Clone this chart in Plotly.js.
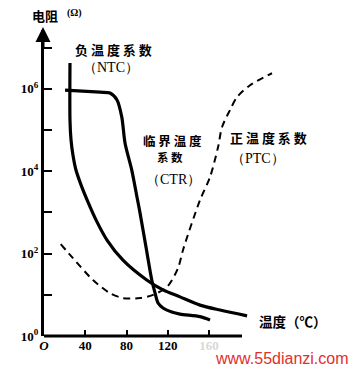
<!DOCTYPE html>
<html>
<head>
<meta charset="utf-8">
<script src="https://cdn.plot.ly/plotly-3.0.1.min.js"></script>
<style>html,body{margin:0;padding:0;background:#fff;}#chart{width:352px;height:370px;}</style>
</head>
<body>
<div id="chart"></div>
<script>
// Temperature (°C) and log10(resistance / Ω)
const ntcTemp = [25.2, 25.2, 26.2, 28.1, 31.0, 35.9, 42.7, 50.4, 61.1, 76.6, 99.6, 115.4, 131.9, 151.3, 170.7, 196.9];
const ntcLogR = [6.63, 5.24, 4.76, 4.39, 4.03, 3.67, 3.25, 2.82, 2.33, 1.84, 1.36, 1.12, 0.95, 0.75, 0.63, 0.49];

const ctrTemp = [20.4, 54.3, 64.0, 70.8, 75.4, 78.6, 85.1, 90.2, 93.1, 98.9, 104.5, 107.7, 110.6, 115.4, 123.9, 131.9, 151.3, 161.0];
const ctrLogR = [5.97, 5.92, 5.90, 5.73, 5.32, 4.68, 4.03, 3.37, 2.99, 2.16, 1.36, 1.04, 0.80, 0.68, 0.58, 0.53, 0.47, 0.39];

const ptcTemp = [16.2, 28.1, 47.5, 64.0, 76.6, 93.1, 105.7, 119.3, 130.0, 134.8, 151.3, 161.0, 168.8, 172.6, 180.4, 187.2, 199.8, 221.1];
const ptcLogR = [2.23, 1.89, 1.36, 1.04, 0.92, 0.92, 1.00, 1.19, 1.65, 2.09, 3.30, 3.86, 4.59, 5.07, 5.49, 5.80, 6.09, 6.38];

const xTickVals = [0, 40, 80, 120, 160];
const xTickText = ['<i>O</i>', '40', '80', '120', '<span style="color:#d8d8d8">160</span>'];
const yTickVals = [1, 100, 10000, 1000000];
const yTickText = ['10<sup>0</sup>', '10<sup>2</sup>', '10<sup>4</sup>', '10<sup>6</sup>'];
const yMinorVals = [10, 1000, 100000, 10000000];

const toR = a => a.map(v => Math.pow(10, v));

const M = {l: 44, r: 77, t: 30, b: 34};
const W = 352, H = 370;
const pw = W - M.l - M.r, ph = H - M.t - M.b;
const px = x => (x - M.l) / pw;
const py = y => (H - M.b - y) / ph;

const cjk = '"Noto Sans CJK SC", sans-serif';
const serif = '"Liberation Serif", "DejaVu Serif", serif';

function label(text, x, y, size, family, weight, color) {
  return {
    xref: 'paper', yref: 'paper', x: px(x), y: py(y),
    xanchor: 'center', yanchor: 'middle', showarrow: false,
    text: text,
    font: {family: family, size: size, color: color || '#000', weight: weight || 'bold'}
  };
}

const traces = [
  {x: ntcTemp, y: toR(ntcLogR), mode: 'lines', line: {color: '#000', width: 3.2, shape: 'spline', smoothing: 0.8}, hoverinfo: 'skip'},
  {x: ctrTemp, y: toR(ctrLogR), mode: 'lines', line: {color: '#000', width: 3.2, shape: 'spline', smoothing: 0.8}, hoverinfo: 'skip'},
  {x: ptcTemp, y: toR(ptcLogR), mode: 'lines', line: {color: '#000', width: 2, dash: '7px,5px', shape: 'spline', smoothing: 0.8}, hoverinfo: 'skip'}
];

const layout = {
  width: W, height: H,
  margin: M,
  paper_bgcolor: '#fff', plot_bgcolor: '#fff',
  showlegend: false,
  xaxis: {
    range: [0, 224], tickvals: xTickVals, ticktext: xTickText,
    ticks: 'inside', ticklen: 6, tickwidth: 2, tickcolor: '#000',
    showline: false, showgrid: false, zeroline: false,
    tickfont: {family: serif, size: 13, color: '#000', weight: 'bold'}
  },
  yaxis: {
    type: 'log', range: [0, 7.43], tickvals: yTickVals, ticktext: yTickText,
    ticks: 'inside', ticklen: 8, tickwidth: 2, tickcolor: '#000',
    minor: {tickvals: yMinorVals, ticks: 'inside', ticklen: 8, tickwidth: 2, tickcolor: '#000', showgrid: false},
    showline: true, linewidth: 3, linecolor: '#000',
    showgrid: false, zeroline: false,
    tickfont: {family: serif, size: 13, color: '#000', weight: 'bold'}
  },
  shapes: [
    {type: 'line', xref: 'x', yref: 'paper', x0: 0, x1: 192, y0: 0, y1: 0, line: {color: '#000', width: 3}}
  ],
  annotations: [
    {xref: 'paper', yref: 'paper', x: px(43), y: py(27), ax: 0, ay: 22, text: '', showarrow: true,
     arrowhead: 2, arrowsize: 1, arrowwidth: 3, arrowcolor: '#000'},
    label('电阻', 45, 16, 13, cjk),
    label('(Ω)', 74, 13, 10, serif),
    label('负 温 度 系 数', 113, 49, 13, cjk),
    label('（NTC）', 111, 67, 14, serif, 'normal'),
    label('临 界 温 度', 172, 140, 12.5, cjk),
    label('系 数', 170, 157, 11.5, cjk),
    label('（CTR）', 173, 179, 14, serif, 'normal'),
    label('正 温 度 系 数', 268, 137, 13, cjk),
    label('（PTC）', 258, 159, 14, serif, 'normal'),
    label('温度（℃）', 293, 321, 13.5, cjk),
    label('www.55dianzi.com', 282, 358, 16, '"Liberation Sans", Arial, sans-serif', 'normal', '#e0302a')
  ]
};

Plotly.newPlot('chart', traces, layout, {staticPlot: true, displayModeBar: false});
</script>
</body>
</html>
